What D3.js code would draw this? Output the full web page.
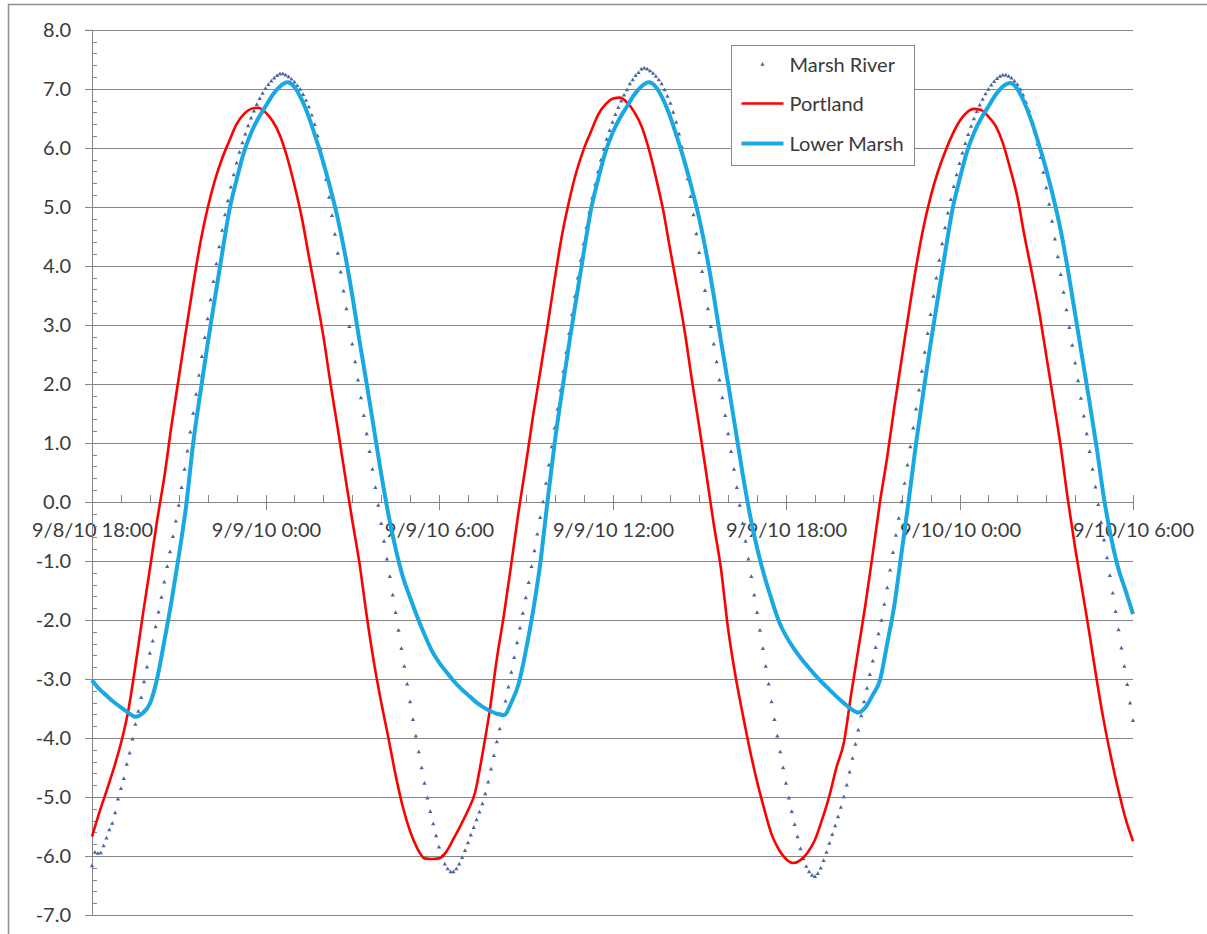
<!DOCTYPE html>
<html>
<head>
<meta charset="utf-8">
<script src="https://cdn.jsdelivr.net/npm/d3@7"></script>
<style>
  html, body { margin: 0; padding: 0; background: #fff; }
  svg { display: block; }
  .lbl { font-family: Lato, "Open Sans", sans-serif; font-size: 20px; fill: #3a3a3a; }
</style>
</head>
<body>
<svg id="chart" width="1207" height="934"></svg>
<script>
// ---- data ---------------------------------------------------------------
const seriesNames = ["Marsh River", "Portland", "Lower Marsh"];
const startTime = new Date(2010, 8, 8, 18, 0);
const endTime = new Date(2010, 8, 10, 6, 0);
const marshRiverStepMinutes = 6;   // one reading every 6 minutes
const lineStepMinutes = 15;        // Portland / Lower Marsh every 15 minutes
const xTickHours = [0, 6, 12, 18, 24, 30, 36];
const xTickLabels = ["9/8/10 18:00", "9/9/10 0:00", "9/9/10 6:00", "9/9/10 12:00",
                     "9/9/10 18:00", "9/10/10 0:00", "9/10/10 6:00"];
const yTickValues = [8, 7, 6, 5, 4, 3, 2, 1, 0, -1, -2, -3, -4, -5, -6, -7];

// water level (ft), 6-minute readings
const marshRiver = [
  -6.17, -5.94, -5.96, -5.95, -5.83, -5.70, -5.56, -5.45, -5.27, -5.04,
  -4.86, -4.69, -4.45, -4.26, -4.02, -3.77, -3.55, -3.32, -3.05, -2.80,
  -2.57, -2.36, -2.12, -1.87, -1.62, -1.36, -1.10, -0.85, -0.59, -0.33,
  -0.06, 0.24, 0.55, 0.86, 1.18, 1.50, 1.82, 2.14, 2.46, 2.78,
  3.10, 3.42, 3.73, 4.03, 4.32, 4.60, 4.86, 5.10, 5.33, 5.54,
  5.74, 5.92, 6.08, 6.23, 6.37, 6.50, 6.62, 6.73, 6.83, 6.92,
  7.00, 7.07, 7.13, 7.18, 7.22, 7.25, 7.25, 7.23, 7.20, 7.16,
  7.11, 7.05, 6.99, 6.90, 6.80, 6.69, 6.55, 6.39, 6.20, 5.99,
  5.74, 5.46, 5.16, 4.85, 4.53, 4.21, 3.89, 3.57, 3.27, 2.97,
  2.67, 2.37, 2.06, 1.76, 1.46, 1.15, 0.85, 0.55, 0.24, -0.06,
  -0.37, -0.67, -0.97, -1.27, -1.58, -1.88, -2.18, -2.49, -2.79, -3.09,
  -3.39, -3.69, -3.97, -4.24, -4.51, -4.77, -5.02, -5.25, -5.46, -5.66,
  -5.85, -6.01, -6.14, -6.22, -6.27, -6.27, -6.22, -6.14, -6.03, -5.91,
  -5.78, -5.65, -5.52, -5.39, -5.26, -5.12, -4.95, -4.75, -4.53, -4.30,
  -4.07, -3.85, -3.62, -3.38, -3.14, -2.89, -2.64, -2.39, -2.14, -1.89,
  -1.63, -1.37, -1.10, -0.83, -0.55, -0.27, 0.00, 0.31, 0.62, 0.93,
  1.25, 1.57, 1.89, 2.21, 2.53, 2.85, 3.17, 3.48, 3.79, 4.09,
  4.37, 4.65, 4.91, 5.15, 5.38, 5.59, 5.79, 5.97, 6.14, 6.29,
  6.43, 6.56, 6.68, 6.79, 6.89, 6.98, 7.08, 7.15, 7.22, 7.27,
  7.33, 7.35, 7.33, 7.30, 7.26, 7.21, 7.15, 7.08, 6.98, 6.87,
  6.75, 6.60, 6.43, 6.23, 6.01, 5.75, 5.47, 5.17, 4.86, 4.54,
  4.22, 3.90, 3.58, 3.27, 2.97, 2.67, 2.37, 2.06, 1.76, 1.46,
  1.15, 0.85, 0.55, 0.24, -0.06, -0.37, -0.67, -0.97, -1.27, -1.58,
  -1.88, -2.18, -2.49, -2.79, -3.09, -3.39, -3.69, -3.97, -4.24, -4.51,
  -4.77, -5.02, -5.25, -5.47, -5.68, -5.88, -6.05, -6.18, -6.27, -6.33,
  -6.35, -6.30, -6.21, -6.08, -5.94, -5.79, -5.64, -5.49, -5.34, -5.18,
  -5.00, -4.80, -4.58, -4.35, -4.11, -3.87, -3.63, -3.39, -3.16, -2.93,
  -2.70, -2.47, -2.24, -2.01, -1.74, -1.46, -1.16, -0.86, -0.57, -0.28,
  0.00, 0.31, 0.62, 0.93, 1.25, 1.57, 1.89, 2.21, 2.53, 2.85,
  3.17, 3.48, 3.79, 4.09, 4.37, 4.64, 4.89, 5.12, 5.34, 5.54,
  5.73, 5.91, 6.07, 6.22, 6.36, 6.49, 6.61, 6.72, 6.82, 6.91,
  6.99, 7.06, 7.12, 7.17, 7.21, 7.23, 7.23, 7.21, 7.18, 7.13,
  7.07, 6.99, 6.89, 6.77, 6.63, 6.46, 6.27, 6.06, 5.83, 5.58,
  5.32, 5.04, 4.75, 4.45, 4.15, 3.85, 3.55, 3.25, 2.95, 2.65,
  2.35, 2.05, 1.75, 1.45, 1.15, 0.85, 0.55, 0.25, -0.05, -0.35,
  -0.65, -0.95, -1.25, -1.55, -1.86, -2.17, -2.48, -2.79, -3.10, -3.41,
  -3.71
];

// water level (ft), 15-minute readings
const portland = [
  -5.67, -5.27, -4.90, -4.52, -4.09, -3.55, -2.78, -1.94,
  -1.14, -0.32, 0.42, 1.30, 2.10, 2.90, 3.68, 4.40,
  4.98, 5.45, 5.82, 6.12, 6.40, 6.57, 6.66, 6.68,
  6.60, 6.45, 6.21, 5.84, 5.37, 4.83, 4.16, 3.50,
  2.81, 2.00, 1.24, 0.45, -0.31, -1.04, -1.93, -2.72,
  -3.39, -4.00, -4.63, -5.17, -5.58, -5.87, -6.04, -6.05,
  -6.04, -5.93, -5.71, -5.48, -5.23, -4.92, -4.28, -3.55,
  -2.66, -1.90, -1.05, -0.17, 0.62, 1.45, 2.20, 2.97,
  3.77, 4.51, 5.10, 5.59, 5.97, 6.27, 6.56, 6.73,
  6.83, 6.85, 6.77, 6.61, 6.37, 5.99, 5.50, 4.95,
  4.26, 3.59, 2.88, 2.05, 1.27, 0.46, -0.37, -1.13,
  -2.16, -2.94, -3.59, -4.20, -4.74, -5.21, -5.63, -5.89,
  -6.05, -6.12, -6.07, -5.94, -5.73, -5.38, -4.98, -4.49,
  -4.08, -3.27, -2.50, -1.73, -0.88, 0.00, 0.76, 1.62,
  2.42, 3.22, 3.98, 4.64, 5.17, 5.59, 5.93, 6.22,
  6.45, 6.60, 6.66, 6.64, 6.53, 6.37, 6.08, 5.65,
  5.17, 4.50, 3.89, 3.24, 2.48, 1.72, 0.94, 0.03,
  -0.78, -1.51, -2.25, -3.03, -3.74, -4.35, -4.90, -5.38,
  -5.75
];

const lowerMarsh = [
  -3.02, -3.17, -3.28, -3.39, -3.48, -3.57, -3.64, -3.58,
  -3.42, -3.00, -2.36, -1.68, -0.92, -0.09, 1.00, 1.86,
  2.68, 3.45, 4.21, 4.94, 5.46, 5.92, 6.25, 6.50,
  6.70, 6.90, 7.04, 7.11, 7.03, 6.82, 6.52, 6.15,
  5.75, 5.30, 4.80, 4.20, 3.50, 2.73, 2.00, 1.24,
  0.48, -0.21, -0.79, -1.27, -1.62, -1.95, -2.25, -2.52,
  -2.72, -2.88, -3.03, -3.16, -3.27, -3.38, -3.47, -3.54,
  -3.59, -3.61, -3.40, -3.09, -2.53, -1.86, -1.05, 0.00,
  1.00, 1.86, 2.68, 3.45, 4.21, 4.94, 5.46, 5.92,
  6.25, 6.50, 6.70, 6.90, 7.04, 7.11, 7.03, 6.82,
  6.52, 6.15, 5.75, 5.30, 4.80, 4.20, 3.50, 2.73,
  2.00, 1.24, 0.48, -0.21, -0.78, -1.25, -1.65, -2.02,
  -2.27, -2.47, -2.64, -2.79, -2.93, -3.06, -3.18, -3.30,
  -3.41, -3.51, -3.57, -3.48, -3.27, -3.02, -2.40, -1.74,
  -0.85, 0.05, 1.00, 1.86, 2.68, 3.45, 4.21, 4.94,
  5.46, 5.92, 6.25, 6.50, 6.70, 6.90, 7.04, 7.10,
  7.00, 6.76, 6.44, 6.05, 5.63, 5.15, 4.60, 3.93,
  3.18, 2.43, 1.68, 0.90, 0.05, -0.62, -1.14, -1.51,
  -1.90
];

// ---- helpers --------------------------------------------------------------
const addMinutes = (d, m) => new Date(d.getTime() + m * 60000);
const toPoints = (values, step) => values.map((v, i) => ({ t: addMinutes(startTime, i * step), v }));

const marshPts = toPoints(marshRiver, marshRiverStepMinutes);
const portlandPts = toPoints(portland, lineStepMinutes);
const lowerPts = toPoints(lowerMarsh, lineStepMinutes);

// ---- scales -----------------------------------------------------------------
const x = d3.scaleTime().domain([startTime, endTime]).range([92, 1133]);
const y = d3.scaleLinear().domain([-7, 8]).range([915, 29.8]);
const xR = x.copy().interpolate(d3.interpolateRound);
const yR = y.copy().interpolate(d3.interpolateRound);

const svg = d3.select("#chart");
const axisColor = "#868686";

// chart-area frame
svg.append("rect")
  .attr("x", 8.5).attr("y", 4.5).attr("width", 1400).attr("height", 1200)
  .attr("fill", "#fff").attr("stroke", "#8e8e8e").attr("stroke-width", 1.5);

// category labels along the zero line (drawn beneath everything else)
const majorTimes = xTickHours.map(h => addMinutes(startTime, h * 60));
const xAxis = svg.append("g")
  .attr("transform", `translate(0,${yR(0)})`)
  .call(d3.axisBottom(xR).tickValues(majorTimes)
        .tickFormat((d, i) => xTickLabels[i]).tickSize(8).tickPadding(6));
xAxis.select(".domain").remove();
xAxis.selectAll(".tick line").attr("y1", -7).attr("y2", 8).attr("stroke", axisColor);
xAxis.selectAll(".tick text")
  .attr("class", "lbl").attr("y", 35).attr("dy", null);
xAxis.attr("font-family", null).attr("font-size", null);

// horizontal gridlines
const grid = svg.append("g")
  .attr("transform", "translate(85,0)")
  .call(d3.axisRight(yR).tickValues(yTickValues).tickSize(1133 - 85).tickFormat(""));
grid.select(".domain").remove();
grid.selectAll(".tick line").attr("stroke", axisColor);

// value axis with labels
const yAxis = svg.append("g")
  .attr("transform", "translate(92,0)")
  .call(d3.axisLeft(yR).tickValues(yTickValues).tickSize(7).tickPadding(14)
        .tickFormat(d => d.toFixed(1)));
yAxis.attr("font-family", null).attr("font-size", null);
yAxis.select(".domain").attr("stroke", axisColor);
yAxis.selectAll(".tick line").attr("stroke", axisColor);
yAxis.selectAll(".tick text").attr("class", "lbl").attr("dy", "0.34em");

// minor ticks on the value axis (every 0.2 ft, inside)
const yMinor = d3.range(-70, 80, 2).filter(k => k % 10 !== 0).map(k => k / 10);
const yMinorAxis = svg.append("g")
  .attr("transform", "translate(92,0)")
  .call(d3.axisRight(yR).tickValues(yMinor).tickSize(5).tickFormat(""));
yMinorAxis.select(".domain").remove();
yMinorAxis.selectAll(".tick line").attr("stroke", axisColor);

// time axis line along zero with hourly minor ticks (inside)
const hourTimes = d3.range(0, 37).filter(h => h % 6 !== 0).map(h => addMinutes(startTime, h * 60));
const xMinorAxis = svg.append("g")
  .attr("transform", `translate(0,${yR(0)})`)
  .call(d3.axisTop(xR).tickValues(hourTimes).tickSize(7).tickFormat("").tickSizeOuter(0));
xMinorAxis.select(".domain").attr("stroke", axisColor);
xMinorAxis.selectAll(".tick line").attr("stroke", axisColor);

// ---- series -------------------------------------------------------------
const marker = d3.symbol(d3.symbolTriangle, 8);
svg.append("g").selectAll("path")
  .data(marshPts)
  .join("path")
  .attr("transform", d => `translate(${x(d.t)},${y(d.v)})`)
  .attr("d", marker)
  .attr("fill", "#4a66a0");

const line = d3.line().x(d => x(d.t)).y(d => y(d.v)).curve(d3.curveMonotoneX);

svg.append("path").datum(portlandPts)
  .attr("d", line).attr("fill", "none")
  .attr("stroke", "#ff0000").attr("stroke-width", 2.6).attr("stroke-linejoin", "round");

svg.append("path").datum(lowerPts)
  .attr("d", line).attr("fill", "none")
  .attr("stroke", "#19a8e2").attr("stroke-width", 4).attr("stroke-linejoin", "round");

// ---- legend ---------------------------------------------------------------
const legend = svg.append("g").attr("transform", "translate(731.5,45.5)");
legend.append("rect").attr("width", 183).attr("height", 120)
  .attr("fill", "#fff").attr("stroke", "#8a8a8a");
const rows = [
  { name: seriesNames[0], cy: 19, kind: "marker" },
  { name: seriesNames[1], cy: 58, kind: "line", color: "#ff0000", w: 2.6 },
  { name: seriesNames[2], cy: 98, kind: "line", color: "#19a8e2", w: 4 }
];
rows.forEach(r => {
  if (r.kind === "marker") {
    legend.append("path").attr("transform", `translate(31,${r.cy})`)
      .attr("d", marker).attr("fill", "#4a66a0");
  } else {
    legend.append("line").attr("x1", 10).attr("x2", 52).attr("y1", r.cy).attr("y2", r.cy)
      .attr("stroke", r.color).attr("stroke-width", r.w);
  }
  legend.append("text").attr("class", "lbl").attr("x", 58).attr("y", r.cy).attr("dy", "0.35em")
    .text(r.name);
});
</script>
</body>
</html>
